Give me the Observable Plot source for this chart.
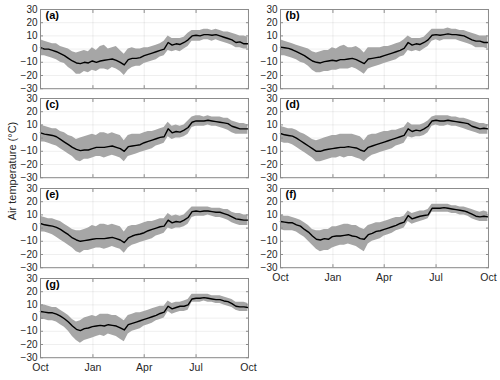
<!DOCTYPE html>
<html><head><meta charset="utf-8">
<script src="https://cdn.jsdelivr.net/npm/d3@7"></script>
<script src="https://cdn.jsdelivr.net/npm/@observablehq/plot@0.6"></script>
<style>
body{margin:0;background:#fff;}
#wrap{position:relative;width:500px;height:380px;font-family:"Liberation Sans",Arial,sans-serif;overflow:hidden;}
.panel{position:absolute;}
#ylab{position:absolute;left:12px;top:171px;transform:translate(-50%,-50%) rotate(-90deg);font-size:11px;color:#262626;white-space:nowrap;}
</style></head>
<body><div id="wrap"><div id="ylab">Air temperature (°C)</div></div>
<script>
// ---- data (weekly readings from 1 Oct, step 7 days) ----
const startDate = "2017-10-01", endDate = "2018-10-01";
const sampleStepDays = 7;
const tickDates = ["2017-10-01","2018-01-01","2018-04-01","2018-07-01","2018-10-01"];
const tickLabels = ["Oct","Jan","Apr","Jul","Oct"];
const yTicks = [-30,-20,-10,0,10,20,30];
const panelLabels = ["(a)","(b)","(c)","(d)","(e)","(f)","(g)"];

const meanA = [1,0,0,-1,-2,-3.5,-5,-7,-9,-10.5,-11,-10,-10.5,-9,-10,-9,-8.5,-8,-7.5,-8.5,-10,-12,-8,-7,-7,-6.5,-5,-4,-3,-2,-1,0,5,3,4,3.5,5,7,10,10.5,10,11,11,10.5,11,10,9,8,7,5,5.5,4,4];
const hiA = [7,6,5,4,4,2,1,0,-2,-3,-2,-1,-2,1,-1,2,3,0,1,2,-1,-4,0,1,0,0,1,1,2,3,4,6,10,8,8,8,9,12,14,14,14,15,15,14,15,14,13,13,12,11,10,10,9];
const loA = [-5,-5,-6,-7,-8,-10,-11,-14,-16,-19,-19,-17,-18,-16,-17,-15,-15,-16,-14,-15,-17,-20,-16,-14,-13,-13,-11,-10,-9,-8,-6,-5,-1,-2,-1,-2,0,2,6,6,6,7,7,6,7,6,5,4,3,1,1,0,0];

const meanB = [1.5,1,0.5,-0.5,-2,-3.5,-5,-7,-9,-10,-10.5,-9.5,-9,-8.5,-9,-8,-8,-7.5,-7,-8,-9.5,-11,-7.5,-7,-6.5,-6,-5,-4,-3,-2,-1,0.5,5,3,4,3.5,5,7,10.5,11,10.5,11,11.5,11,11,10.5,10,8.5,7,6,6,5,5];
const hiB = [7,6,5,4,3,2,1,0,-2,-3,-2,-1,-1,1,0,2,3,1,1,2,0,-3,1,1,1,1,2,2,3,4,5,7,10,8,8,8,9,12,15,15,15,15,16,15,15,14,14,13,12,11,10,10,10];
const loB = [-5,-5,-6,-7,-8,-10,-11,-13,-16,-18,-18,-17,-17,-16,-16,-15,-15,-15,-14,-15,-17,-19,-15,-14,-13,-12,-11,-10,-9,-8,-6,-5,-1,-2,-1,-2,0,2,6,7,6,7,7,7,7,6,5,4,3,1,1,1,0];

const meanC = [4,3,2.5,2,1,-1,-3,-5,-7,-8.5,-9.5,-9,-9,-8,-7,-7,-7,-6.5,-6,-7,-8,-10,-6.5,-6,-5.5,-5,-3.5,-2.5,-1.5,-0.5,0.5,1,7,4,5,4.5,6,8,12,13,13,13,13.5,13,12.5,12,11.5,11,9,8,7,7,7];
const hiC = [10,9,8,7,7,5,4,2,1,-1,0,1,2,3,2,4,4,3,4,3,2,-2,2,3,3,3,4,5,5,6,7,8,12,9,10,9,10,13,16,17,17,16,17,16,16,16,15,15,13,12,11,11,10];
const loC = [-3,-3,-4,-5,-6,-8,-10,-12,-14,-17,-18,-16,-16,-15,-14,-14,-15,-14,-13,-14,-15,-18,-14,-13,-12,-11,-10,-9,-8,-6,-5,-4,1,-1,0,0,1,3,8,9,9,9,10,9,9,8,7,6,4,3,3,3,3];

const meanD = [3.5,2.5,2,1.5,0,-2,-4,-6,-8,-10,-10,-9,-8.5,-8,-7.5,-7,-7,-6.5,-7,-7.5,-9,-10,-7,-6,-5,-4,-3,-2,-1,0,1,2,7,5,6,5.5,7,9,13,13.5,13,13,13.5,13,12.5,12,11.5,11,9,8,7,7.5,7];
const hiD = [9,8,7,7,6,4,3,1,-1,-2,-1,0,1,2,2,3,3,3,3,2,1,-2,2,3,3,4,5,5,6,6,7,8,12,10,10,10,11,13,16,17,17,17,17,16,16,15,15,14,13,12,11,11,10];
const loD = [-3,-4,-4,-5,-7,-9,-11,-13,-15,-18,-18,-17,-16,-15,-15,-14,-15,-14,-14,-15,-16,-18,-15,-13,-12,-11,-10,-9,-8,-6,-5,-4,1,0,1,1,2,4,9,10,9,9,10,9,9,8,7,6,5,4,3,3,3];

const meanE = [3.5,2.5,2,1.5,0.5,-1,-3,-5,-7.5,-9,-10,-9.5,-9,-8.5,-8,-8,-8,-7.5,-7,-8,-9,-11,-7.5,-6,-5,-4.5,-3.5,-2,-1,0,1,1.5,6,4,5,4.5,6,8,12.5,13,12.5,13,13,12.5,12,12,11,10,8.5,7,6.5,6,6];
const hiE = [9,8,7,7,6,5,3,1,-1,-2,-2,-1,0,2,1,3,3,2,3,2,1,-3,1,2,2,3,4,5,5,6,7,7,11,9,10,9,10,13,16,16,16,16,16,15,15,15,14,14,12,11,11,10,10];
const loE = [-3,-3,-4,-5,-7,-9,-11,-13,-15,-18,-19,-17,-17,-16,-15,-15,-16,-15,-14,-15,-16,-19,-15,-13,-12,-11,-10,-9,-8,-6,-5,-4,0,-1,0,0,1,3,8,9,9,9,10,9,8,8,7,6,4,3,2,2,2];

const meanF = [5,4.5,4,4,2.5,1.5,-1,-3,-6,-8.5,-9,-8,-8.5,-6.5,-6,-6,-5.5,-5,-6,-6.5,-8,-8.5,-5,-4,-2.5,-2,-1,0,1,2,3.5,4.5,9.5,7,8,9,9.5,10,15,15,15,15.5,15,14.5,14,13.5,13,12,10.5,9,8.5,9,8.5];
const hiF = [10,9,9,8,7,6,4,2,-1,-2,-2,-1,-1,1,1,2,3,3,2,2,0,-1,2,3,4,4,5,6,7,8,8,9,13,11,12,13,13,14,18,18,18,18,18,17,17,16,16,15,14,13,12,13,12];
const loF = [-1,-2,-2,-2,-3,-5,-7,-10,-13,-16,-18,-17,-17,-15,-14,-13,-13,-12,-13,-14,-16,-18,-12,-10,-9,-8,-6,-5,-4,-2,-1,0,5,3,4,5,6,7,12,12,12,12,12,11,11,10,10,9,7,6,5,5,5];

const meanG = [5,4.5,4,4,3,1.5,-0.5,-3,-6,-8.5,-9.5,-8,-7.5,-6.5,-6,-5.5,-6,-5,-5.5,-6,-7.5,-9,-5,-4,-3,-2,-1,0,1,2,3.5,4.5,9,7,8,9,9,10,14.5,15,15,15.5,15,14.5,14,14,13,12.5,11,9,8.5,8.5,8];
const hiG = [10,10,9,8,8,6,4,2,-1,-3,-2,0,1,2,1,3,3,3,2,2,0,-2,2,3,4,4,5,6,7,8,9,9,13,11,12,12,13,14,18,18,18,18,18,17,17,17,16,15,14,12,12,12,11];
const loG = [-1,-1,-2,-2,-3,-5,-7,-10,-14,-17,-19,-17,-16,-15,-14,-13,-14,-12,-13,-14,-16,-18,-12,-10,-9,-8,-6,-5,-4,-2,-1,0,5,3,4,5,5,6,12,12,12,13,12,12,11,11,10,9,8,6,5,5,5];

// ---- layout ----
const panels = [
  {label: panelLabels[0], mean: meanA, hi: hiA, lo: loA, col: 0, row: 0},
  {label: panelLabels[1], mean: meanB, hi: hiB, lo: loB, col: 1, row: 0},
  {label: panelLabels[2], mean: meanC, hi: hiC, lo: loC, col: 0, row: 1},
  {label: panelLabels[3], mean: meanD, hi: hiD, lo: loD, col: 1, row: 1},
  {label: panelLabels[4], mean: meanE, hi: hiE, lo: loE, col: 0, row: 2},
  {label: panelLabels[5], mean: meanF, hi: hiF, lo: loF, col: 1, row: 2, bottom: true},
  {label: panelLabels[6], mean: meanG, hi: hiG, lo: loG, col: 0, row: 3, bottom: true}
];

const x0 = new Date(startDate + "T00:00Z");
const xt = tickDates.map(d => new Date(d + "T00:00Z"));
const fmtTick = d => tickLabels[xt.findIndex(t => +t === +d)];
const axisColor = "#8c8c8c";
const wrap = document.getElementById("wrap");

for (const p of panels) {
  const data = p.mean.map((m, i) => ({
    date: new Date(Date.UTC(x0.getUTCFullYear(), x0.getUTCMonth(), x0.getUTCDate() + i * sampleStepDays)),
    mean: m, hi: p.hi[i], lo: p.lo[i]
  }));
  const mt = 6, ph = 79.2, mb = p.bottom ? 24 : 3;
  const svg = Plot.plot({
    width: 250, height: mt + ph + mb,
    marginLeft: 40, marginRight: 2, marginTop: mt, marginBottom: mb,
    style: {fontFamily: "'Liberation Sans', Arial, sans-serif", fontSize: "10px", color: "#262626", background: "transparent", overflow: "visible"},
    x: {type: "utc", domain: [xt[0], xt[xt.length - 1]]},
    y: {domain: [-30, 30]},
    marks: [
      Plot.gridX(xt, {stroke: "#000", strokeOpacity: 0.07}),
      Plot.gridY(yTicks, {stroke: "#000", strokeOpacity: 0.07}),
      Plot.areaY(data, {x: "date", y1: "lo", y2: "hi", fill: "#a6a6a6"}),
      Plot.lineY(data, {x: "date", y: "mean", stroke: "#000", strokeWidth: 1.4}),
      Plot.frame({stroke: axisColor}),
      Plot.axisY(yTicks, {anchor: "left", tickSize: 0, tickPadding: 3, label: null, fill: "#262626"}),
      Plot.axisY(yTicks, {anchor: "left", tickSize: -3, fill: "none", label: null, stroke: axisColor}),
      Plot.axisY(yTicks, {anchor: "right", tickSize: -3, fill: "none", label: null, stroke: axisColor}),
      Plot.axisX(xt, {anchor: "bottom", tickSize: -3, fill: "none", label: null, stroke: axisColor}),
      Plot.axisX(xt, {anchor: "top", tickSize: -3, fill: "none", label: null, stroke: axisColor}),
      p.bottom ? Plot.axisX(xt, {anchor: "bottom", tickSize: 0, tickPadding: 6, label: null, tickFormat: fmtTick, fill: "#262626", fontSize: 10.5}) : null,
      Plot.text([p.label], {text: d => d, frameAnchor: "top-left", dx: 5, dy: 1.5, fontWeight: "bold", fontSize: 11, fill: "#000"})
    ]
  });
  const div = document.createElement("div");
  div.className = "panel";
  div.style.left = (p.col === 0 ? 0 : 240) + "px";
  div.style.top = (8.5 + p.row * 89.7 - mt) + "px";
  div.appendChild(svg);
  wrap.appendChild(div);
}
</script>
</body></html>
